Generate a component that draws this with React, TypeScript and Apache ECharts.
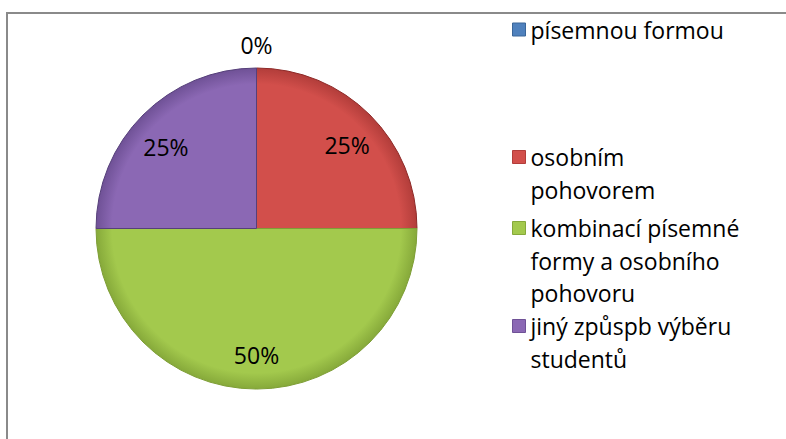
import React, { useEffect, useRef } from "react";
import * as echarts from "echarts";

const categories = [
  "písemnou formou",
  "osobním pohovorem",
  "kombinací písemné formy a osobního pohovoru",
  "jiný způspb výběru studentů",
];
const legendLines = [
  ["písemnou formou"],
  ["osobním", "pohovorem"],
  ["kombinací písemné", "formy a osobního", "pohovoru"],
  ["jiný způspb výběru", "studentů"],
];
const values = [0, 25, 50, 25];
const colors = ["#4F81BD", "#D24F4B", "#A3C94D", "#8B68B4"];
const rimColors = ["#3A6699", "#B23D3A", "#86A93A", "#6F5196"];
const edgeColors = ["#2C5A8F", "#8E2A28", "#7E9E36", "#56407A"];

const FONT = "'Open Sans', sans-serif";

export default function App() {
  const ref = useRef<HTMLDivElement>(null);
  useEffect(() => {
    if (!ref.current) return;
    const chart = echarts.init(ref.current, undefined, { renderer: "svg" });
    const center = [256.5, 228.5];
    const R = 160.5;
    const data = categories.map((name, i) => ({
      name,
      value: values[i],
      itemStyle: {
        color: new echarts.graphic.RadialGradient(
          center[0],
          center[1],
          R,
          [
            { offset: 0, color: colors[i] },
            { offset: 0.9, color: colors[i] },
            { offset: 1, color: rimColors[i] },
          ],
          true
        ),
        borderColor: edgeColors[i],
        borderWidth: 1,
      },
    }));
    const plain = categories.map((name, i) => ({ name, value: values[i] }));
    const legendTops = [13.25, 108.25, 146.75, 277.25];
    const option: any = {
      animation: false,
      backgroundColor: "#ffffff",
      graphic: [
        {
          type: "rect",
          z: -10,
          shape: { x: 7, y: 13, width: 820, height: 520 },
          style: { fill: "none", stroke: "#8a8a8a", lineWidth: 2 },
          silent: true,
        },
      ],
      legend: categories.map((name, i) => ({
        data: [{ name, itemStyle: { color: colors[i], borderColor: rimColors[i], borderWidth: 1 } }],
        orient: "vertical",
        left: 512,
        top: legendTops[i],
        padding: 0,
        itemWidth: 13,
        itemHeight: 13,
        icon: "rect",
        selectedMode: false,
        formatter: (n: string) => {
          const idx = categories.indexOf(n);
          const lines = legendLines[idx];
          const pad = new Array(lines.length - 1).fill("");
          return [...pad, ...lines].join("\n");
        },
        textStyle: {
          fontFamily: FONT,
          fontSize: 23,
          color: "#000",
          lineHeight: 32.5,
        },
      })),
      series: [
        {
          type: "pie",
          center,
          radius: [0, R],
          startAngle: 90,
          clockwise: true,
          avoidLabelOverlap: false,
          label: { show: false },
          labelLine: { show: false },
          silent: true,
          data,
        },
        {
          type: "pie",
          center,
          radius: [0, 246],
          startAngle: 90,
          clockwise: true,
          avoidLabelOverlap: false,
          silent: true,
          itemStyle: { color: "transparent", borderWidth: 0 },
          label: {
            show: true,
            position: "inside",
            formatter: "{d}%",
            fontFamily: FONT,
            fontSize: 23,
            color: "#000",
          },
          labelLayout: (p: any) =>
            p.dataIndex === 1 ? { dx: 1.5, dy: 6 } : p.dataIndex === 3 ? { dx: -1.5, dy: 8 } : {},
          labelLine: { show: false },
          data: plain.map((d, i) => (i === 0 ? { ...d, label: { show: false } } : d)),
        },
        {
          type: "pie",
          center,
          radius: [0, 361],
          startAngle: 90,
          clockwise: true,
          avoidLabelOverlap: false,
          silent: true,
          itemStyle: { color: "transparent", borderWidth: 0 },
          label: {
            show: true,
            position: "inside",
            formatter: "{d}%",
            fontFamily: FONT,
            fontSize: 23,
            color: "#000",
          },
          labelLine: { show: false },
          data: plain.map((d, i) => (i === 0 ? d : { ...d, label: { show: false } })),
        },
      ],
    };
    chart.setOption(option);
    return () => chart.dispose();
  }, []);
  return (
    <div
      ref={ref}
      style={{ position: "fixed", left: 0, top: 0, width: 786, height: 439, background: "#fff" }}
    />
  );
}
